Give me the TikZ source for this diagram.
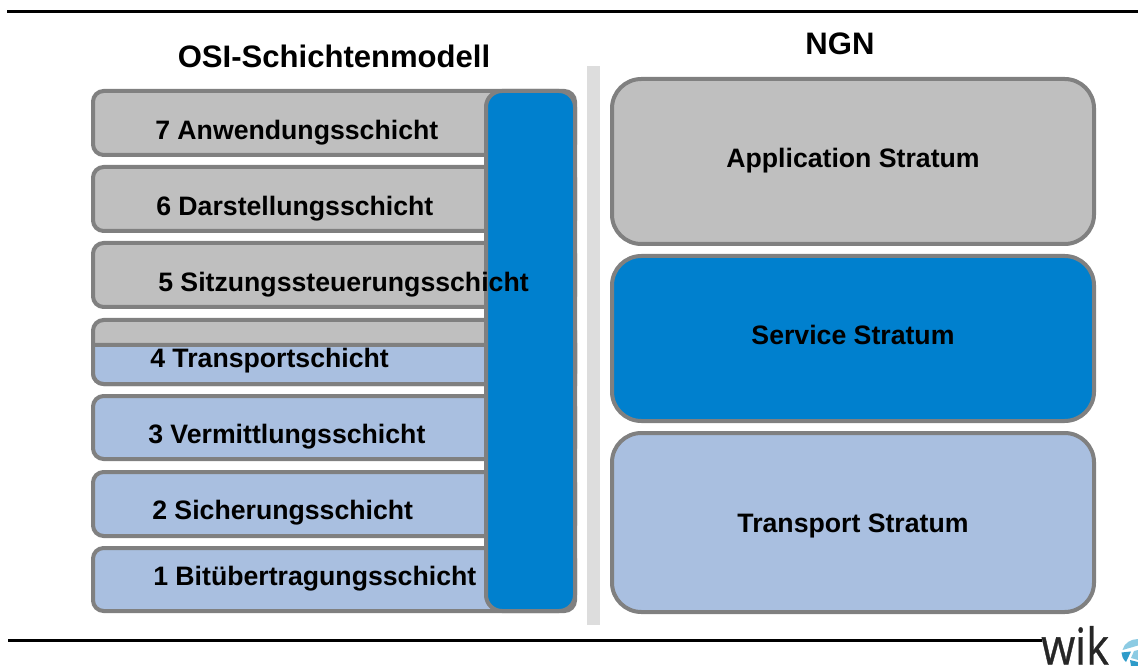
\documentclass[tikz,border=0pt]{standalone}
\usepackage{fontspec}
\setmainfont{Liberation Sans}
\newfontfamily\logofont[FakeBold=0.7]{Open Sans}
\definecolor{edgegray}{HTML}{808080}
\definecolor{fillgray}{HTML}{BFBFBF}
\definecolor{fillblue}{HTML}{A9BFE0}
\definecolor{barblue}{HTML}{0080CE}
\definecolor{sepgray}{HTML}{DDDDDD}
\definecolor{logoblue}{HTML}{2E9BC9}
\definecolor{logolight}{HTML}{8CCBE3}
\tikzset{
  px/.style={x=0.75pt,y=-0.75pt},
  layerbox/.style={draw=edgegray,line width=3pt,rounded corners=8pt},
  bigbox/.style={draw=edgegray,line width=3pt,rounded corners=22pt},
  lbl/.style={font=\bfseries\fontsize{20pt}{22pt}\selectfont,text=black,inner sep=0pt},
  ttl/.style={font=\bfseries\fontsize{23.3pt}{26pt}\selectfont,text=black,inner sep=0pt},
  rule/.style={draw=black,line width=2.2pt}
}
\begin{document}
\begin{tikzpicture}[px]
\useasboundingbox (0,0) rectangle (1138,666);
\fill[white] (0,0) rectangle (1138,666);
% rules
\coordinate (tl) at (7,11.5); \coordinate (tr) at (1138,11.5);
\coordinate (bl) at (8,640.5); \coordinate (br) at (1042,640.5);
\draw[rule] (tl) -- (tr);
\draw[rule] (bl) -- (br);
% separator
\fill[sepgray] (587,66) rectangle (600,625);
% OSI layers
\draw[layerbox,fill=fillgray] (93,91) rectangle (575,155);
\draw[layerbox,fill=fillgray] (93,167) rectangle (575,231);
\draw[layerbox,fill=fillgray] (93,243) rectangle (575,307);
\draw[layerbox,fill=fillgray] (93,320) rectangle (575,384);
\draw[layerbox,fill=fillblue] (93,345) [sharp corners] -- (575,345) -- (575,384) [rounded corners=8pt] -- (93,384) [sharp corners] -- cycle;
\draw[layerbox,fill=fillblue] (93,396) rectangle (575,459);
\draw[layerbox,fill=fillblue] (93,472) rectangle (575,536);
\draw[layerbox,fill=fillblue] (93,548) rectangle (575,611);
% bar
\draw[layerbox,fill=barblue,rounded corners=12pt] (486,91) rectangle (575,611);
% right strata
\draw[bigbox,fill=fillgray] (612,79) rectangle (1094,244);
\draw[bigbox,fill=barblue] (612,256) rectangle (1094,421);
\draw[bigbox,fill=fillblue] (612,433) rectangle (1094,612);
% labels
\node[ttl] (osi) at (334,56) {OSI-Schichtenmodell};
\node[ttl] (ngn) at (840,44) {NGN};
\node[lbl,anchor=west] (l7) at (155,133) {7 Anwendungsschicht};
\node[lbl,anchor=west] (l6) at (156,209) {6 Darstellungsschicht};
\node[lbl,anchor=west] (l5) at (158,285) {5 Sitzungssteuerungsschicht};
\node[lbl,anchor=west] (l4) at (150,361) {4 Transportschicht};
\node[lbl,anchor=west] (l3) at (148,437) {3 Vermittlungsschicht};
\node[lbl,anchor=west] (l2) at (152,513) {2 Sicherungsschicht};
\node[lbl,anchor=west] (l1) at (153,579) {1 Bitübertragungsschicht};
\node[lbl] (s1) at (853,161) {Application Stratum};
\node[lbl] (s2) at (853,335) {Service Stratum};
\node[lbl] (s3) at (853,526) {Transport Stratum};
% logo
\node[anchor=base west,inner sep=0pt,text=black!85,xscale=0.86,font=\logofont\fontsize{38pt}{42pt}\selectfont] (wik) at (1041,664.5) {wik};
\fill[logolight] (1122.5,650) .. controls (1124,643) and (1131,639) .. (1138,639) -- (1138,645.5) -- cycle;
\fill[logoblue] (1121.5,652.5) -- (1131,651.5) -- (1126,662) .. controls (1123,659) and (1121.5,656) .. (1121.5,652.5) -- cycle;
\fill[logolight] (1134,651) -- (1138,650) -- (1138,660) -- (1131,658) -- cycle;
\fill[logoblue] (1130,660) -- (1138,662) -- (1138,666) -- (1131,666) -- cycle;
\end{tikzpicture}
\end{document}
